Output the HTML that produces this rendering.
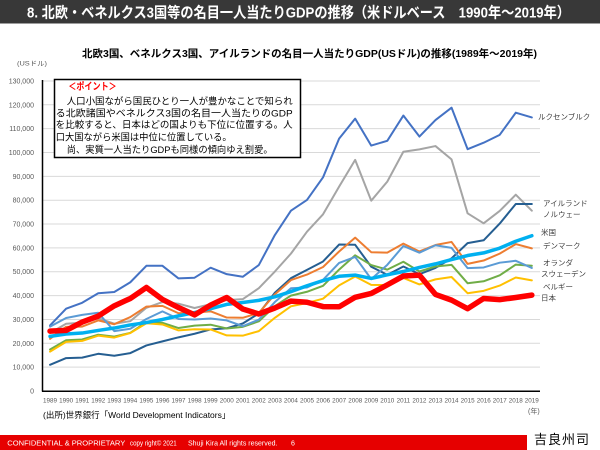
<!DOCTYPE html>
<html>
<head>
<meta charset="utf-8">
<style>
  html,body{margin:0;padding:0;background:#fff;}
  svg{display:block;}
  text{font-family:"Liberation Sans","Noto Sans CJK JP",sans-serif;}
</style>
</head>
<body>
<svg width="600" height="450" viewBox="0 0 600 450" xmlns="http://www.w3.org/2000/svg">
  <!-- Title bar -->
  <rect x="0" y="0" width="600" height="23.5" fill="#383838"/>
  <text x="27" y="17.5" font-size="15" font-weight="bold" fill="#fff" textLength="543" lengthAdjust="spacingAndGlyphs">8. 北欧・ベネルクス3国等の名目一人当たりGDPの推移（米ドルベース　1990年～2019年）</text>

  <!-- Chart title -->
  <text x="82" y="57" font-size="10.5" font-weight="bold" fill="#000" textLength="455" lengthAdjust="spacingAndGlyphs">北欧3国、ベネルクス3国、アイルランドの名目一人当たりGDP(USドル)の推移(1989年～2019年)</text>
  <text x="17" y="65.5" font-size="6.5" fill="#595959" textLength="30" lengthAdjust="spacingAndGlyphs">(USドル)</text>

  <!-- Gridlines -->
  <g stroke="#D9D9D9" stroke-width="1">
    <line x1="42" x2="540" y1="367.15" y2="367.15"/>
    <line x1="42" x2="540" y1="343.3" y2="343.3"/>
    <line x1="42" x2="540" y1="319.45" y2="319.45"/>
    <line x1="42" x2="540" y1="295.6" y2="295.6"/>
    <line x1="42" x2="540" y1="271.75" y2="271.75"/>
    <line x1="42" x2="540" y1="247.9" y2="247.9"/>
    <line x1="42" x2="540" y1="224.05" y2="224.05"/>
    <line x1="42" x2="540" y1="200.2" y2="200.2"/>
    <line x1="42" x2="540" y1="176.35" y2="176.35"/>
    <line x1="42" x2="540" y1="152.5" y2="152.5"/>
    <line x1="42" x2="540" y1="128.65" y2="128.65"/>
    <line x1="42" x2="540" y1="104.8" y2="104.8"/>
    <line x1="42" x2="540" y1="80.95" y2="80.95"/>
  </g>

  <!-- Y labels -->
  <g font-size="7" fill="#595959" text-anchor="end">
    <text x="34" y="393.5">0</text>
    <text x="34" y="369.6">10,000</text>
    <text x="34" y="345.8">20,000</text>
    <text x="34" y="321.9">30,000</text>
    <text x="34" y="298.1">40,000</text>
    <text x="34" y="274.2">50,000</text>
    <text x="34" y="250.4">60,000</text>
    <text x="34" y="226.5">70,000</text>
    <text x="34" y="202.7">80,000</text>
    <text x="34" y="178.8">90,000</text>
    <text x="34" y="155">100,000</text>
    <text x="34" y="131.1">110,000</text>
    <text x="34" y="107.3">120,000</text>
    <text x="34" y="83.4">130,000</text>
  </g>

  <!-- Series -->
  <g transform="translate(50.03,391) scale(16.06,-2.385)" fill="none" stroke-linejoin="round" stroke-linecap="round">
    <polyline vector-effect="non-scaling-stroke" stroke="#4472C4" stroke-width="2" points="0,27.5 1,34.5 2,37 3,41 4,41.5 5,45.6 6,52.5 7,52.5 8,47.2 9,47.5 10,51.7 11,49 12,47.9 13,52.8 14,65.4 15,75.6 16,80.1 17,89.6 18,105.8 19,114.2 20,102.9 21,104.9 22,115.5 23,106.7 24,113.6 25,118.8 26,101.4 27,104.1 28,107.4 29,116.7 30,114.7"/>
    <polyline vector-effect="non-scaling-stroke" stroke="#A5A5A5" stroke-width="2" points="0,24.3 1,28.2 2,28.6 3,30.5 4,28.2 5,29.3 6,34.9 7,37.3 8,36.6 9,34.8 10,36.4 11,38.1 12,38.5 13,43.1 14,50.1 15,57.6 16,66.8 17,74.1 18,85.7 19,96.9 20,79.8 21,87.8 22,100.3 23,101.3 24,102.7 25,97.1 26,74.5 27,70.3 28,75.5 29,82.3 30,75.6"/>
    <polyline vector-effect="non-scaling-stroke" stroke="#255E91" stroke-width="2" points="0,11 1,13.8 2,14 3,15.6 4,14.8 5,15.9 6,19.1 7,20.8 8,22.5 9,24 10,25.8 11,26.3 12,28.3 13,32.5 14,41.2 15,47.3 16,50.8 17,54.3 18,61.4 19,61.3 20,52.1 21,48.7 22,52.2 23,49 24,51.6 25,55.6 26,62 27,63.2 28,70.2 29,78.4 30,78.4"/>
    <polyline vector-effect="non-scaling-stroke" stroke="#ED7D31" stroke-width="2" points="0,21.9 1,26.9 2,27 3,29.6 4,28 5,31 6,35.4 7,35.7 8,32.6 9,32.9 10,33.4 11,30.8 12,30.7 13,32.7 14,40.5 15,46.5 16,48.8 17,52 18,58.5 19,64.3 20,58.2 21,58 22,61.8 23,58.5 24,61.2 25,62.5 26,53.3 27,54.7 28,57.6 29,61.6 30,59.8"/>
    <polyline vector-effect="non-scaling-stroke" stroke="#70AD47" stroke-width="2" points="0,17.4 1,21.3 2,21.6 3,23.6 4,22.8 5,24.4 6,28.9 7,28.6 8,26.4 9,27.4 10,27.8 11,26.2 12,26.9 13,29.2 14,35.6 15,40 16,41.6 17,44.1 18,50.9 19,56.9 20,52.8 21,50.9 22,54.2 23,50.1 24,52.2 25,52.9 26,45.2 27,46 28,48.5 29,53 30,52.5"/>
    <polyline vector-effect="non-scaling-stroke" stroke="#5B9BD5" stroke-width="2" points="0,27 1,30.6 2,31.9 3,32.8 4,25.1 5,26.1 6,30.2 7,33.4 8,30.2 9,30 10,30.4 11,29.6 12,27.2 13,29.9 14,37.3 15,43.1 16,43.4 17,46.6 18,53.7 19,56.2 20,46.9 21,52.9 22,60.8 23,58 24,61.1 25,60 26,51.5 27,51.8 28,53.8 29,54.6 30,51.6"/>
    <polyline vector-effect="non-scaling-stroke" stroke="#FFC000" stroke-width="2" points="0,16.5 1,20.6 2,21 3,23.2 4,22.4 5,24.3 6,28.4 7,27.9 8,25.4 9,25.9 10,25.8 11,23.3 12,23.2 13,25.1 14,30.7 15,35.5 16,36.9 17,38.7 18,44.3 19,48 20,44.5 21,44.4 22,47.4 23,44.7 24,46.8 25,47.8 26,41 27,42 28,44.2 29,47.6 30,46.4"/>
    <polyline vector-effect="non-scaling-stroke" stroke="#00B0F0" stroke-width="3.5" points="0,22.9 1,23.9 2,24.3 3,25.4 4,26.4 5,27.7 6,28.7 7,30 8,31.5 9,32.9 10,34.5 11,36.3 12,37.1 13,38 14,39.5 15,41.7 16,44.1 17,46.3 18,48.1 19,48.6 20,47.2 21,48.7 22,50.1 23,51.8 24,53.3 25,55.1 26,56.8 27,57.9 28,59.9 29,62.8 30,65.1"/>
    <polyline vector-effect="non-scaling-stroke" stroke="#FF0000" stroke-width="5.5" points="0,25.1 1,25.4 2,28.9 3,31.4 4,35.7 5,38.8 6,43.4 7,38.4 8,35 9,31.9 10,36 11,39.2 12,34.4 13,32.3 14,34.8 15,37.7 16,37.2 17,35.4 18,35.3 19,39.3 20,40.9 21,44.5 22,48.2 23,48.6 24,40.5 25,38.1 26,34.5 27,38.8 28,38.3 29,39.2 30,40.2"/>
  </g>

  <!-- Axes -->
  <line x1="42.5" y1="80" x2="42.5" y2="391.5" stroke="#000" stroke-width="1.5"/>
  <line x1="42" y1="391.2" x2="540" y2="391.2" stroke="#000" stroke-width="1.5"/>

  <!-- X labels -->
  <g font-size="6.3" fill="#595959" text-anchor="middle">
    <text x="50" y="402.5">1989</text>
    <text x="66.1" y="402.5">1990</text>
    <text x="82.2" y="402.5">1991</text>
    <text x="98.2" y="402.5">1992</text>
    <text x="114.3" y="402.5">1993</text>
    <text x="130.3" y="402.5">1994</text>
    <text x="146.4" y="402.5">1995</text>
    <text x="162.5" y="402.5">1996</text>
    <text x="178.5" y="402.5">1997</text>
    <text x="194.6" y="402.5">1998</text>
    <text x="210.6" y="402.5">1999</text>
    <text x="226.7" y="402.5">2000</text>
    <text x="242.8" y="402.5">2001</text>
    <text x="258.8" y="402.5">2002</text>
    <text x="274.9" y="402.5">2003</text>
    <text x="290.9" y="402.5">2004</text>
    <text x="307" y="402.5">2005</text>
    <text x="323.1" y="402.5">2006</text>
    <text x="339.1" y="402.5">2007</text>
    <text x="355.2" y="402.5">2008</text>
    <text x="371.2" y="402.5">2009</text>
    <text x="387.3" y="402.5">2010</text>
    <text x="403.4" y="402.5">2011</text>
    <text x="419.4" y="402.5">2012</text>
    <text x="435.5" y="402.5">2013</text>
    <text x="451.5" y="402.5">2014</text>
    <text x="467.6" y="402.5">2015</text>
    <text x="483.7" y="402.5">2016</text>
    <text x="499.7" y="402.5">2017</text>
    <text x="515.8" y="402.5">2018</text>
    <text x="531.8" y="402.5">2019</text>
  </g>
  <text x="528" y="413.5" font-size="7" fill="#595959">(年)</text>

  <!-- Right labels -->
  <g font-size="7.5" fill="#404040">
    <text x="538" y="119.5">ルクセンブルク</text>
    <text x="543" y="206">アイルランド</text>
    <text x="543" y="216.8">ノルウェー</text>
    <text x="541" y="235">米国</text>
    <text x="543" y="248.4">デンマーク</text>
    <text x="543" y="265.4">オランダ</text>
    <text x="541" y="276.7">スウェーデン</text>
    <text x="543" y="289.4">ベルギー</text>
    <text x="541" y="300.4">日本</text>
  </g>

  <!-- Annotation box -->
  <rect x="54.5" y="79.5" width="246" height="78" fill="#fff" stroke="#000" stroke-width="1.5"/>
  <text x="68.3" y="90.2" font-size="10" font-weight="bold" fill="#FF0000" textLength="48.4" lengthAdjust="spacingAndGlyphs">＜ポイント＞</text>
  <g font-size="9.5" fill="#000">
    <text x="66.7" y="104.3" textLength="226" lengthAdjust="spacingAndGlyphs">人口小国ながら国民ひとり一人が豊かなことで知られ</text>
    <text x="55.7" y="116.3" textLength="237" lengthAdjust="spacingAndGlyphs">る北欧諸国やベネルクス3国の名目一人当たりのGDP</text>
    <text x="55.7" y="127.9" textLength="237" lengthAdjust="spacingAndGlyphs">を比較すると、日本はどの国よりも下位に位置する。人</text>
    <text x="55.7" y="140.3" textLength="176" lengthAdjust="spacingAndGlyphs">口大国ながら米国は中位に位置している。</text>
    <text x="66.7" y="152.9" textLength="206" lengthAdjust="spacingAndGlyphs">尚、実質一人当たりGDPも同様の傾向ゆえ割愛。</text>
  </g>

  <!-- Source -->
  <text x="43" y="418" font-size="8.5" fill="#000">(出所)世界銀行「World Development Indicators」</text>

  <!-- Footer -->
  <rect x="0" y="435" width="527" height="15" fill="#E60000"/>
  <g font-size="7" fill="#fff">
    <text x="7.3" y="445.5" textLength="118" lengthAdjust="spacingAndGlyphs">CONFIDENTIAL &amp; PROPRIETARY</text>
    <text x="130" y="445.5" textLength="46.7" lengthAdjust="spacingAndGlyphs">copy right© 2021</text>
    <text x="188" y="445.5">Shuji Kira All rights reserved.</text>
    <text x="291" y="445.5">6</text>
  </g>
  <text x="534" y="444" font-size="13" fill="#000" font-family="'Noto Serif CJK JP','Noto Serif CJK SC',serif" textLength="55" lengthAdjust="spacing">吉良州司</text>
</svg>
</body>
</html>
